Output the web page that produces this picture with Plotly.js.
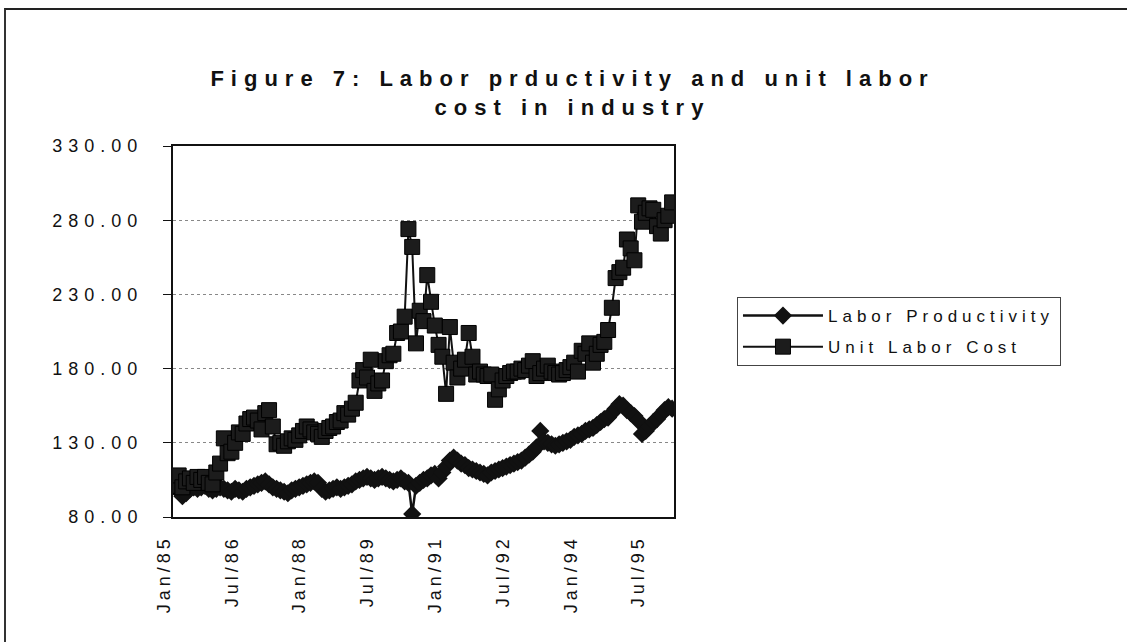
<!DOCTYPE html>
<html><head><meta charset="utf-8">
<script src="https://cdn.plot.ly/plotly-3.0.1.min.js"></script>
<style>
html,body{margin:0;padding:0;background:#fff;}
#chart{width:1127px;height:642px;position:absolute;left:0;top:0;}
#frame{position:absolute;left:4px;top:8px;width:1123px;height:634px;border-top:2px solid #222;border-left:2px solid #333;pointer-events:none;box-sizing:border-box;}
.gtitle{letter-spacing:7px;}
.ytick text{letter-spacing:6px;}
.xtick text{letter-spacing:4px;}
.legendtext{letter-spacing:5px;}
</style></head>
<body><div id="chart"></div><div id="frame"></div>
<script>
const months = [
 'Jan/85','Feb/85','Mar/85','Apr/85','May/85','Jun/85','Jul/85','Aug/85','Sep/85','Oct/85','Nov/85','Dec/85',
 'Jan/86','Feb/86','Mar/86','Apr/86','May/86','Jun/86','Jul/86','Aug/86','Sep/86','Oct/86','Nov/86','Dec/86',
 'Jan/87','Feb/87','Mar/87','Apr/87','May/87','Jun/87','Jul/87','Aug/87','Sep/87','Oct/87','Nov/87','Dec/87',
 'Jan/88','Feb/88','Mar/88','Apr/88','May/88','Jun/88','Jul/88','Aug/88','Sep/88','Oct/88','Nov/88','Dec/88',
 'Jan/89','Feb/89','Mar/89','Apr/89','May/89','Jun/89','Jul/89','Aug/89','Sep/89','Oct/89','Nov/89','Dec/89',
 'Jan/90','Feb/90','Mar/90','Apr/90','May/90','Jun/90','Jul/90','Aug/90','Sep/90','Oct/90','Nov/90','Dec/90',
 'Jan/91','Feb/91','Mar/91','Apr/91','May/91','Jun/91','Jul/91','Aug/91','Sep/91','Oct/91','Nov/91','Dec/91',
 'Jan/92','Feb/92','Mar/92','Apr/92','May/92','Jun/92','Jul/92','Aug/92','Sep/92','Oct/92','Nov/92','Dec/92',
 'Jan/93','Feb/93','Mar/93','Apr/93','May/93','Jun/93','Jul/93','Aug/93','Sep/93','Oct/93','Nov/93','Dec/93',
 'Jan/94','Feb/94','Mar/94','Apr/94','May/94','Jun/94','Jul/94','Aug/94','Sep/94','Oct/94','Nov/94','Dec/94',
 'Jan/95','Feb/95','Mar/95','Apr/95','May/95','Jun/95','Jul/95','Aug/95','Sep/95','Oct/95','Nov/95','Dec/95',
 'Jan/96'
];

const laborProductivity = [
 100, 98, 94, 96, 99, 100, 99, 100, 101, 99,
 98, 99, 100, 99, 98, 97, 99, 98, 97, 99,
 100, 101, 102, 103, 104, 102, 100, 99, 98, 97,
 96, 98, 99, 100, 101, 102, 103, 104, 103, 99,
 97, 98, 99, 100, 99, 100, 101, 102, 104, 105,
 106, 107, 106, 105, 106, 107, 106, 105, 104, 105,
 106, 104, 103, 82, 101, 103, 105, 106, 108, 109,
 106, 110, 114, 118, 120, 118, 116, 115, 113, 112,
 111, 110, 109, 108, 110, 111, 112, 113, 114, 115,
 116, 117, 118, 120, 122, 124, 127, 138, 131, 130,
 129, 128, 129, 130, 131, 132, 134, 135, 136, 138,
 139, 140, 142, 144, 146, 147, 150, 153, 156, 155,
 152, 150, 148, 145, 136, 138, 141, 144, 146, 149,
 152, 154, 153
];

const unitLaborCost = [
 101, 108, 100, 104, 106, 103, 107, 105, 107, 103,
 102, 110, 116, 133, 123, 124, 130, 137, 136, 143,
 146, 147, 145, 139, 150, 152, 141, 129, 130, 128,
 131, 133, 132, 135, 138, 141, 139, 137, 136, 134,
 138, 140, 141, 144, 145, 150, 149, 153, 157, 172,
 179, 174, 186, 165, 170, 172, 185, 189, 190, 204,
 205, 215, 274, 262, 197, 219, 212, 243, 225, 209,
 196, 188, 163, 208, 184, 174, 180, 186, 204, 188,
 176, 178, 176, 175, 176, 159, 166, 172, 175, 177,
 178, 178, 180, 179, 182, 185, 175, 177, 180, 182,
 178, 177, 176, 177, 179, 181, 184, 178, 192, 190,
 197, 184, 190, 196, 198, 206, 221, 241, 245, 248,
 267, 261, 253, 290, 279, 285, 288, 287, 276, 271,
 280, 283, 292
];

const xTickLabels = ['Jan/85','Jul/86','Jan/88','Jul/89','Jan/91','Jul/92','Jan/94','Jul/95'];
const yTickValues = [80, 130, 180, 230, 280, 330];
const titleText = 'Figure 7: Labor prductivity and unit labor<br>cost in industry';

const traces = [
  {
    x: months, y: laborProductivity, type: 'scatter', mode: 'lines+markers',
    name: 'Labor Productivity', legendgroup: 'a',
    line: {color: '#111', width: 2.5},
    marker: {symbol: 'diamond', size: 14, color: '#111'}
  },
  {
    x: months, y: unitLaborCost, type: 'scatter', mode: 'lines+markers',
    name: 'Unit Labor Cost', legendgroup: 'b',
    line: {color: '#111', width: 2},
    marker: {symbol: 'square', size: 15, color: '#1c1c1c', line: {color: '#000', width: 1}}
  }
];

const layout = {
  width: 1127, height: 642,
  margin: {l: 173, r: 453, t: 146, b: 125},
  paper_bgcolor: '#fff', plot_bgcolor: '#fff',
  font: {family: '"Liberation Sans", Arial, sans-serif', color: '#111', size: 17},
  title: {
    text: titleText,
    font: {size: 22, weight: 'bold', color: '#111'},
    x: 0.508, xref: 'container', xanchor: 'center',
    y: 1 - 86/642, yref: 'container', yanchor: 'top'
  },
  xaxis: {
    type: 'category', range: [-0.5, 132.5],
    tickmode: 'array', tickvals: xTickLabels, ticktext: xTickLabels,
    tickangle: -90, showgrid: false,
    showline: true, linecolor: '#111', linewidth: 2, mirror: true,
    ticks: '', ticklabelstandoff: 9, ticklabelshift: -11,
    tickfont: {size: 18}
  },
  yaxis: {
    range: [80, 330], tickmode: 'array', tickvals: yTickValues, tickformat: '.2f',
    showline: true, linecolor: '#111', linewidth: 2, mirror: true,
    ticks: 'outside', ticklen: 8, tickcolor: '#111', tickwidth: 1,
    showgrid: true, gridcolor: '#888', griddash: 'dot', gridwidth: 1,
    zeroline: false, ticklabelstandoff: 16,
    tickfont: {size: 18}
  },
  legend: {
    x: 1.1257, xanchor: 'left', y: 0.593, yanchor: 'top',
    bordercolor: '#444', borderwidth: 1, bgcolor: '#fff',
    font: {size: 17}, itemwidth: 80, traceorder: 'grouped', tracegroupgap: 6
  },
  showlegend: true
};

Plotly.newPlot('chart', traces, layout, {displayModeBar: false, staticPlot: true});
</script></body></html>
